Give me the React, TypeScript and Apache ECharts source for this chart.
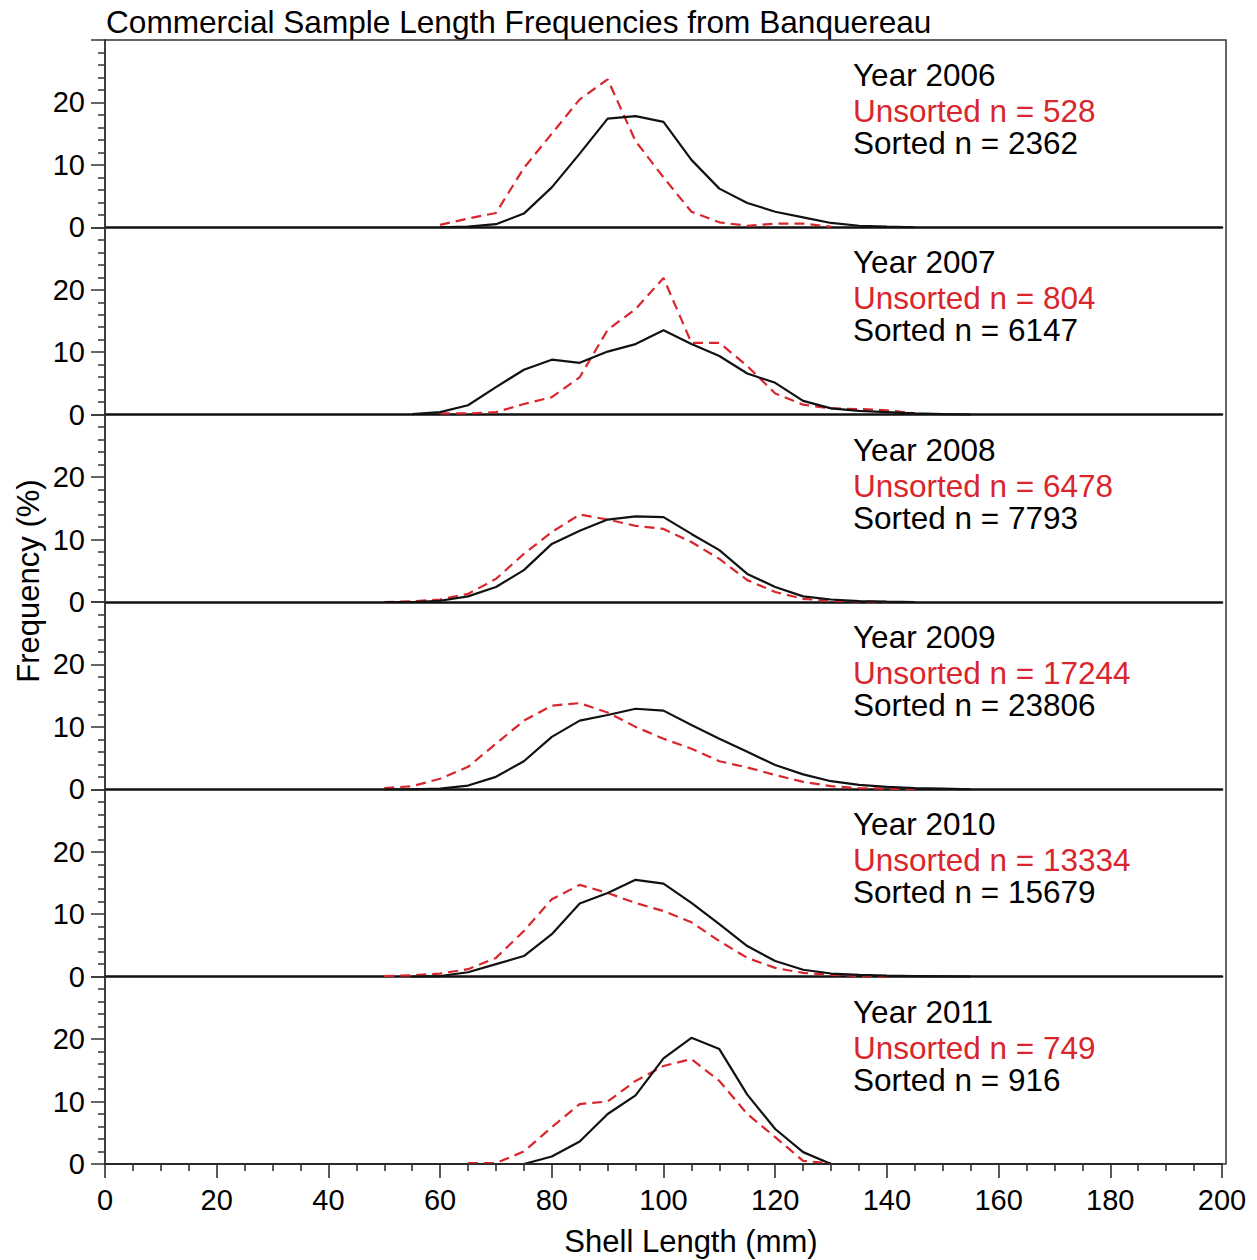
import React, { useEffect, useRef } from "react";
import * as echarts from "echarts";

// Shell length bins (mm)
const lengths = [50, 55, 60, 65, 70, 75, 80, 85, 90, 95, 100, 105, 110, 115, 120, 125, 130, 135, 140, 145, 150, 155];

const years = ["2006", "2007", "2008", "2009", "2010", "2011"];
const unsortedN = [528, 804, 6478, 17244, 13334, 749];
const sortedN = [2362, 6147, 7793, 23806, 15679, 916];

// Frequency (%) per bin, null = no data
const sorted2006 = [null, null, 0, 0.1, 0.5, 2.2, 6.4, 11.8, 17.4, 17.8, 16.9, 10.8, 6.2, 3.9, 2.5, 1.6, 0.7, 0.25, 0.1, 0, null, null];
const unsorted2006 = [null, null, 0.4, 1.4, 2.3, 9.5, 15.0, 20.5, 23.7, 13.8, 8.0, 2.5, 0.8, 0.25, 0.6, 0.6, 0.1, null, null, null, null, null];

const sorted2007 = [null, 0.1, 0.4, 1.5, 4.4, 7.2, 8.8, 8.3, 10.1, 11.3, 13.5, 11.3, 9.4, 6.6, 5.1, 2.2, 1.0, 0.6, 0.4, 0.2, 0.1, 0];
const unsorted2007 = [null, null, 0.2, 0.2, 0.4, 1.7, 2.8, 6.0, 13.6, 16.9, 21.9, 11.5, 11.5, 7.8, 3.4, 1.6, 1.0, 0.9, 0.7, 0.2, null, null];

const sorted2008 = [0, 0, 0.2, 0.9, 2.4, 5.1, 9.3, 11.4, 13.2, 13.7, 13.6, 10.9, 8.3, 4.5, 2.4, 0.9, 0.4, 0.15, 0.05, 0, null, null];
const unsorted2008 = [0, 0.1, 0.4, 1.3, 3.7, 7.7, 11.2, 14.0, 13.2, 12.2, 11.7, 9.6, 6.9, 3.5, 1.6, 0.5, 0.2, 0.1, 0, null, null, null];

const sorted2009 = [0, 0, 0.1, 0.6, 2.0, 4.5, 8.4, 11.0, 11.9, 12.9, 12.6, 10.3, 8.1, 6.0, 3.9, 2.4, 1.3, 0.7, 0.4, 0.2, 0.1, 0];
const unsorted2009 = [0.2, 0.5, 1.7, 3.6, 7.3, 11.0, 13.4, 13.8, 12.3, 10.0, 8.1, 6.5, 4.5, 3.5, 2.3, 1.2, 0.5, 0.2, 0.1, 0, null, null];

const sorted2010 = [null, 0, 0.1, 0.7, 2.0, 3.3, 6.8, 11.7, 13.4, 15.5, 14.9, 11.8, 8.4, 4.9, 2.5, 1.1, 0.5, 0.3, 0.15, 0.1, 0.05, 0];
const unsorted2010 = [0.1, 0.2, 0.5, 1.2, 3.0, 7.3, 12.4, 14.7, 13.4, 11.8, 10.5, 8.7, 5.7, 3.0, 1.4, 0.6, 0.3, 0.1, 0, null, null, null];

const sorted2011 = [null, null, null, null, null, 0, 1.2, 3.6, 8.0, 11.0, 16.9, 20.2, 18.4, 11.1, 5.6, 1.9, 0, null, null, null, null, null];
const unsorted2011 = [null, null, null, 0.15, 0.15, 2.0, 5.9, 9.6, 10.0, 13.3, 15.7, 16.8, 13.3, 8.0, 4.3, 0.5, 0.1, null, null, null, null, null];

const sortedByYear = [sorted2006, sorted2007, sorted2008, sorted2009, sorted2010, sorted2011];
const unsortedByYear = [unsorted2006, unsorted2007, unsorted2008, unsorted2009, unsorted2010, unsorted2011];

const xTicks = { min: 0, max: 200, interval: 20 };
const yTicks = { min: 0, max: 30, interval: 10 };

const FONT = "'Liberation Sans', Arial, Helvetica, sans-serif";
const RED = "#d9262c";
const BLACK = "#111111";

const PLOT_LEFT = 105;
const PLOT_TOP = 40;
const PLOT_W = 1117;
const FRAME_W = 1121;
const PANEL_H = 187.33;

function toPairs(vals: (number | null)[]) {
  const out: [number, number][] = [];
  vals.forEach((v, k) => {
    if (v !== null) out.push([lengths[k], v]);
  });
  return out;
}

export default function App() {
  const ref = useRef<HTMLDivElement>(null);

  useEffect(() => {
    if (!ref.current) return;
    const chart = echarts.init(ref.current, undefined, { renderer: "svg" });
    const n = years.length;

    const grid = years.map((_, i) => ({
      left: PLOT_LEFT,
      top: PLOT_TOP + i * PANEL_H,
      width: PLOT_W,
      height: PANEL_H,
      containLabel: false,
    }));

    const xAxis = years.map((_, i) => {
      const last = i === n - 1;
      return {
        type: "value",
        gridIndex: i,
        min: xTicks.min,
        max: xTicks.max,
        interval: xTicks.interval,
        axisLine: { show: true, onZero: false, lineStyle: { color: BLACK, width: last ? 2 : 2.5 } },
        axisTick: { show: last, length: 14, lineStyle: { color: "#222", width: 1.5 } },
        minorTick: { show: last, splitNumber: 4, length: 7, lineStyle: { color: "#222", width: 1.5 } },
        axisLabel: {
          show: last,
          fontSize: 29,
          color: "#000",
          fontFamily: FONT,
          margin: 22,
        },
        splitLine: { show: false },
        minorSplitLine: { show: false },
      };
    });

    const yAxis = years.map((_, i) => ({
      type: "value",
      gridIndex: i,
      min: yTicks.min,
      max: yTicks.max,
      interval: yTicks.interval,
      axisLine: { show: true, lineStyle: { color: "#333", width: 1.5 } },
      axisTick: { show: true, length: 14, lineStyle: { color: "#333", width: 1.5 } },
      minorTick: { show: true, splitNumber: 5, length: 7, lineStyle: { color: "#333", width: 1.5 } },
      axisLabel: {
        fontSize: 29,
        color: "#000",
        fontFamily: FONT,
        margin: 20,
        formatter: (v: number) => (v >= yTicks.max ? "" : String(v)),
      },
      splitLine: { show: false },
      minorSplitLine: { show: false },
    }));

    const series: any[] = [];
    years.forEach((y, i) => {
      series.push({
        name: "Unsorted " + y,
        type: "line",
        xAxisIndex: i,
        yAxisIndex: i,
        data: toPairs(unsortedByYear[i]),
        symbol: "none",
        lineStyle: { color: RED, width: 2.2, type: [10, 6] },
        z: 2,
      });
      series.push({
        name: "Sorted " + y,
        type: "line",
        xAxisIndex: i,
        yAxisIndex: i,
        data: toPairs(sortedByYear[i]),
        symbol: "none",
        lineStyle: { color: BLACK, width: 2.2 },
        z: 3,
      });
    });

    const legendText = (text: string, x: number, y: number, fill: string) => ({
      type: "text",
      x,
      y,
      style: {
        text,
        fontSize: 31.5,
        lineHeight: 30,
        fontFamily: FONT,
        fill,
        align: "left",
        verticalAlign: "middle",
      },
    });

    const graphic: any[] = [
      {
        type: "rect",
        silent: true,
        z: 100,
        shape: { x: PLOT_LEFT, y: PLOT_TOP, width: FRAME_W, height: PANEL_H * n },
        style: { fill: "none", stroke: "#333", lineWidth: 1.5 },
      },
      {
        type: "text",
        x: 28,
        y: 581,
        rotation: Math.PI / 2,
        style: {
          text: "Frequency (%)",
          fontSize: 31,
          fontFamily: FONT,
          fill: "#000",
          align: "center",
          verticalAlign: "middle",
        },
      },
      {
        type: "text",
        x: 691,
        y: 1241,
        style: {
          text: "Shell Length (mm)",
          fontSize: 31,
          fontFamily: FONT,
          fill: "#000",
          align: "center",
          verticalAlign: "middle",
        },
      },
    ];
    years.forEach((y, i) => {
      const top = PLOT_TOP + i * PANEL_H;
      graphic.push(legendText("Year " + y, 853, top + 35, "#000"));
      graphic.push(legendText("Unsorted n = " + unsortedN[i], 853, top + 71, RED));
      graphic.push(legendText("Sorted n = " + sortedN[i], 853, top + 103, "#000"));
    });

    chart.setOption({
      animation: false,
      backgroundColor: "#fff",
      title: {
        text: "Commercial Sample Length Frequencies from Banquereau",
        left: 106,
        top: 6,
        padding: 0,
        textStyle: { fontSize: 31.6, lineHeight: 32, fontWeight: "normal", color: "#000", fontFamily: FONT },
      },
      grid,
      xAxis,
      yAxis,
      series,
      graphic,
    });

    return () => chart.dispose();
  }, []);

  return (
    <div
      ref={ref}
      style={{ position: "fixed", left: 0, top: 0, width: 1257, height: 1260, background: "#fff" }}
    />
  );
}
